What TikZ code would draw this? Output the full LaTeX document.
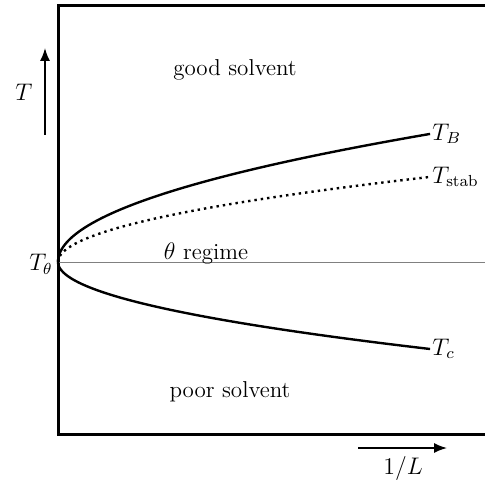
\documentclass[tikz,border=0pt]{standalone}
\usepackage{amsmath,amssymb}
\usepackage{tikz}
\usetikzlibrary{arrows.meta,positioning,calc}

\begin{document}
\begin{tikzpicture}[x=0.5pt,y=-0.5pt,font=\fontsize{11.5}{13}\selectfont,>={Latex[length=6.5pt,width=5pt]},
  frame/.style={line width=1.5pt},
  curve/.style={line width=1.2pt},
  lbl/.style={inner sep=1pt}]
  \useasboundingbox (0,0) rectangle (485,480);
  % axes box
  \draw[frame] (485,6) -- (58,6) -- (58,434) -- (485,434);
  \coordinate (Ttheta) at (58,262);
  \draw[gray,line width=0.5pt] (Ttheta) -- (485,262);
  % branches
  \draw[curve] plot[domain=0:19.29,samples=60,smooth,variable=\t] ({58+\t*\t},{262-6.64*\t}) coordinate (endB);
  \draw[curve,dotted] plot[domain=0:19.29,samples=60,smooth,variable=\t] ({58+\t*\t},{262-4.41*\t}) coordinate (endS);
  \draw[curve] plot[domain=0:19.29,samples=60,smooth,variable=\t] ({58+\t*\t},{262+4.51*\t}) coordinate (endC);
  \node[lbl,anchor=west] (TB) at (endB) {$T_B$};
  \node[lbl,anchor=west] (Ts) at (endS) {$T_{\mathrm{stab}}$};
  \node[lbl,anchor=west] (Tc) at (endC) {$T_c$};
  \node[lbl,anchor=east] (Tt) at ($(Ttheta)+(-3,2)$) {$T_\theta$};
  % regions
  \node (good) at (235,70) {good solvent};
  \node (reg) at (206,254) {$\theta$ regime};
  \node (poor) at (230,392) {poor solvent};
  % axis arrows
  \coordinate (ya) at (45,135);
  \coordinate (yb) at (45,48);
  \draw[->,line width=0.8pt] (ya) -- (yb);
  \node (T) at (24,92) {$T$};
  \coordinate (xa) at (358,448);
  \coordinate (xb) at (447,448);
  \draw[->,line width=0.8pt] (xa) -- (xb);
  \node (L) at (403,468) {$1/L$};
\end{tikzpicture}
\end{document}
